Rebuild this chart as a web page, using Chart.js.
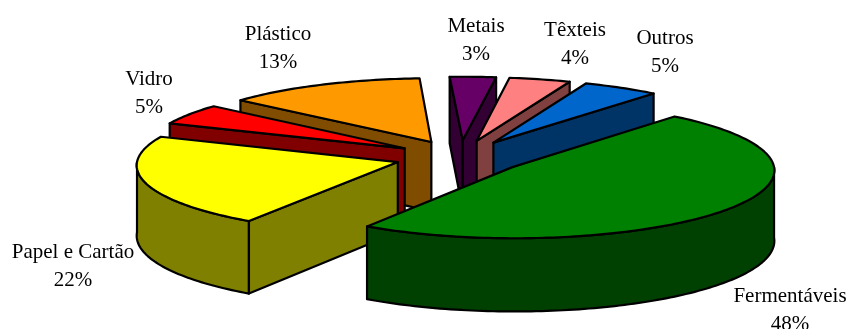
<!DOCTYPE html>
<html>
<head>
<meta charset="utf-8">
<script src="https://cdn.jsdelivr.net/npm/chart.js@4.4.0/dist/chart.umd.min.js"></script>
<style>
  html, body { margin: 0; padding: 0; background: #fff; }
  #wrap { width: 846px; height: 329px; position: relative; }
</style>
</head>
<body>
<div id="wrap"><canvas id="pie-chart"></canvas></div>
<script>
// data
const categories = ['Metais', 'Têxteis', 'Outros', 'Fermentáveis', 'Papel e Cartão', 'Vidro', 'Plástico'];
const values = [3, 4, 5, 48, 22, 5, 13];

// look
const topColors = ['#660066', '#FF8080', '#0066CC', '#008000', '#FFFF00', '#FF0000', '#FF9900'];
const sideColors = ['#330033', '#804040', '#003366', '#004000', '#808000', '#800000', '#804C00'];
// label anchors: [center x, first baseline]
const labelPos = [[476, 32], [575, 36], [665, 44], [790, 302], [73, 258], [149, 85], [278, 40]];

const TILT = 0.26;     // vertical squash of the pie
const DEPTH = 70;      // thickness in px
const EXPLODE = 65;    // distance each slice is pulled out
const PERSP = 0.04;    // front a bit bigger than back

// project a point of slice s at angle a, dz px below the top
function pt(s, a, dz, atCenter) {
  const X = s.ox + (atCenter ? 0 : s.r * Math.cos(a));
  const Y = s.oy + (atCenter ? 0 : s.r * Math.sin(a));
  const f = 1 + PERSP * Y / s.r;
  return [s.x + X * f, s.y + (Y * TILT + dz) * f];
}

function face(ctx, pts, fill) {
  ctx.beginPath();
  ctx.moveTo(pts[0][0], pts[0][1]);
  for (let i = 1; i < pts.length; i++) ctx.lineTo(pts[i][0], pts[i][1]);
  ctx.closePath();
  ctx.fillStyle = fill;
  ctx.fill();
  ctx.stroke();
}

function arcPts(s, a0, a1, dz) {
  const n = Math.max(2, Math.ceil(Math.abs(a1 - a0) / 0.02));
  const out = [];
  for (let i = 0; i <= n; i++) out.push(pt(s, a0 + (a1 - a0) * i / n, dz));
  return out;
}

function drawSlice(ctx, s) {
  const top = topColors[s.i];
  const side = sideColors[s.i];
  const c = pt(s, 0, 0, true);
  const cb = pt(s, 0, DEPTH, true);

  // curved outer wall, only the front half is seen
  const a0 = Math.max(s.start, 0);
  const a1 = Math.min(s.end, Math.PI);
  if (a1 > a0) {
    face(ctx, arcPts(s, a0, a1, 0).concat(arcPts(s, a1, a0, DEPTH)), side);
  }
  // cut walls
  if (Math.cos(s.start) < 0) {
    face(ctx, [c, pt(s, s.start, 0), pt(s, s.start, DEPTH), cb], side);
  }
  if (Math.cos(s.end) > 0) {
    face(ctx, [c, pt(s, s.end, 0), pt(s, s.end, DEPTH), cb], side);
  }
  // top
  face(ctx, [c].concat(arcPts(s, s.start, s.end, 0)), top);
}

const pie3d = {
  id: 'pie3d',
  beforeDatasetsDraw(chart) {
    const ctx = chart.ctx;
    const arcs = chart.getDatasetMeta(0).data;
    const slices = arcs.map((arc, i) => {
      const p = arc.getProps(['x', 'y', 'startAngle', 'endAngle', 'outerRadius'], true);
      const mid = (p.startAngle + p.endAngle) / 2;
      return {
        i: i, x: p.x, y: p.y, start: p.startAngle, end: p.endAngle, r: p.outerRadius, mid: mid,
        ox: EXPLODE * Math.cos(mid),
        oy: EXPLODE * Math.sin(mid)
      };
    });
    slices.sort((a, b) => Math.sin(a.mid) - Math.sin(b.mid));
    ctx.save();
    ctx.strokeStyle = '#000';
    ctx.lineWidth = 2.2;
    ctx.lineJoin = 'round';
    slices.forEach(s => drawSlice(ctx, s));
    ctx.restore();
    return false;
  },
  afterDraw(chart) {
    const ctx = chart.ctx;
    const total = values.reduce((a, b) => a + b, 0);
    ctx.save();
    ctx.fillStyle = '#000';
    ctx.font = '21px "Liberation Serif", "Times New Roman", serif';
    ctx.textAlign = 'center';
    ctx.textBaseline = 'alphabetic';
    categories.forEach((name, i) => {
      const [x, y] = labelPos[i];
      ctx.fillText(name, x, y);
      ctx.fillText(Math.round(values[i] / total * 100) + '%', x, y + 28);
    });
    ctx.restore();
  }
};

new Chart(document.getElementById('pie-chart'), {
  type: 'pie',
  data: {
    labels: categories,
    datasets: [{ data: values, backgroundColor: topColors, borderWidth: 0 }]
  },
  options: {
    responsive: true,
    maintainAspectRatio: false,
    animation: false,
    rotation: -3,
    radius: 260,
    layout: { padding: { left: 74, right: 0, top: 0, bottom: 15 } },
    plugins: { legend: { display: false }, tooltip: { enabled: false } },
    events: []
  },
  plugins: [pie3d]
});
</script>
</body>
</html>
